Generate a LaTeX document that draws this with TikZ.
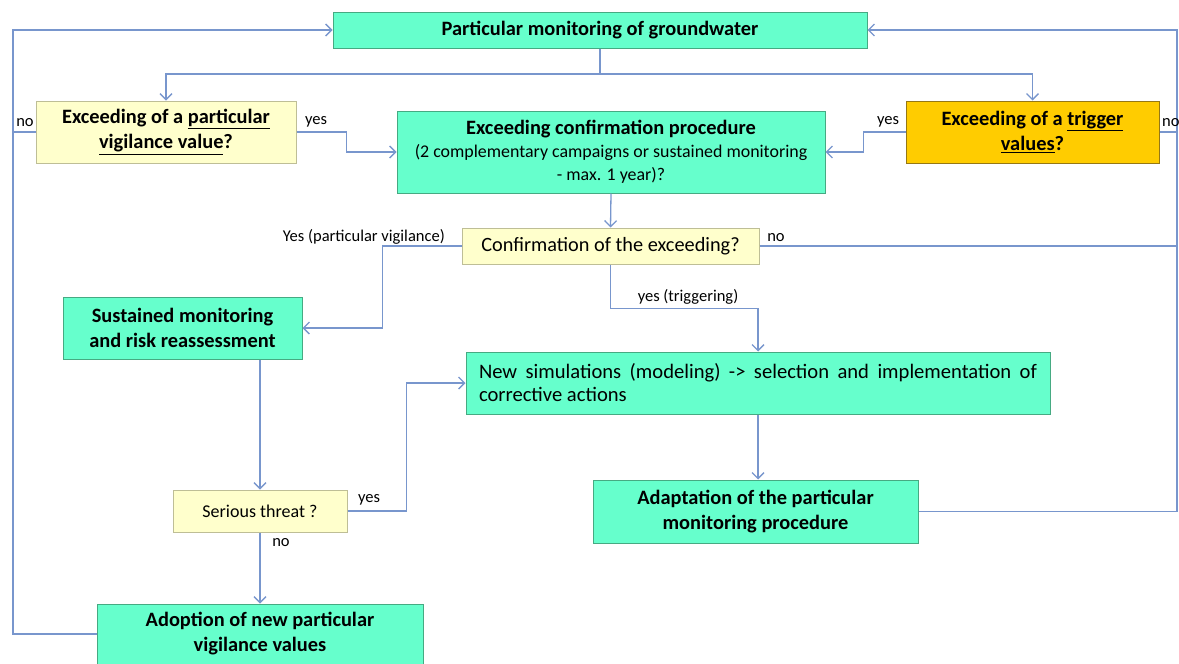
\documentclass[tikz,border=0pt]{standalone}
\usepackage{fontspec}
\setmainfont{Carlito}
\usepackage{tikz}
\usetikzlibrary{arrows.meta}
\usepackage{xcolor}
\definecolor{ColGreen}{RGB}{102,255,204}
\definecolor{ColGreenD}{RGB}{70,170,130}
\definecolor{ColYellow}{RGB}{255,255,204}
\definecolor{ColYellowD}{RGB}{190,190,150}
\definecolor{ColOrange}{RGB}{255,204,0}
\definecolor{ColOrangeD}{RGB}{150,120,20}
\definecolor{ColLine}{RGB}{120,150,205}
\tikzstyle{BoxGreen}=[rectangle,draw=ColGreenD,fill=ColGreen,line width=1pt,inner sep=2pt,align=center,
font=\fontsize{20.4}{25}\selectfont\bfseries]
\tikzstyle{BoxYellow}=[rectangle,draw=ColYellowD,fill=ColYellow,line width=1pt,inner sep=2pt,align=center,
font=\fontsize{20.4}{25}\selectfont\bfseries]
\tikzstyle{BoxOrange}=[rectangle,draw=ColOrangeD,fill=ColOrange,line width=1pt,inner sep=2pt,align=center,
font=\fontsize{20.4}{25}\selectfont\bfseries]
\tikzstyle{EdgeFlow}=[ColLine,line width=1.3pt,>={Straight Barb[length=6pt,width=12pt]}]
\tikzstyle{LabelEdge}=[inner sep=0pt,font=\fontsize{16.5}{18}\selectfont]

\begin{document}
\begin{tikzpicture}[x=1pt,y=-1pt]
        \useasboundingbox(0,0)rectangle(1179,664);
        % boxes
        \node[BoxGreen,minimum width=534,minimum height=36](monitor)at(600,30){Particular monitoring of groundwater};
        \node[BoxYellow,minimum width=260,minimum height=62](vigil)at(166,132){Exceeding of a \underline{particular}\\\underline{vigilance value}?};
        \node[BoxOrange,minimum width=253,minimum height=62](trigger)at(1032.5,132){Exceeding of a \underline{trigger}\\\underline{values}?};
        \node[BoxGreen,minimum width=428,minimum height=82](confproc)at(611,152){Exceeding confirmation procedure\\[-2pt]
            {\mdseries\fontsize{17.9}{20}\selectfont(2 complementary campaigns or sustained monitoring}\\[-2pt]
            {\mdseries\fontsize{17.9}{20}\selectfont - max. 1 year)?}};
        \node[BoxYellow,minimum width=297,minimum height=36,font=\fontsize{20.3}{22}\selectfont](confirm)at(610.5,246){Confirmation of the exceeding?};
        \node[BoxGreen,minimum width=239,minimum height=62](sustain)at(182.5,328){Sustained monitoring\\and risk reassessment};
        \node[BoxGreen,minimum width=584,minimum height=62,align=left,font=\fontsize{20.6}{23}\selectfont](newsim)at(758,383){\makebox[558pt][s]{New simulations (modeling) -> selection and implementation of}\\corrective actions};
        \node[BoxYellow,minimum width=174,minimum height=42,font=\fontsize{18}{20}\selectfont](serious)at(260,511){Serious threat ?};
        \node[BoxGreen,minimum width=325,minimum height=63](adapt)at(755.5,511.5){Adaptation of the particular\\monitoring procedure};
        \node[BoxGreen,minimum width=326,minimum height=60](adopt)at(260,634){Adoption of new particular\\vigilance values};
        % corners
        \coordinate(split)at(600,74);
        \coordinate(leftTop)at(13,30);
        \coordinate(leftBot)at(13,634);
        \coordinate(rightTop)at(1177,30);
        \coordinate(rightBot)at(1177,511.5);
        % connectors
        \draw[EdgeFlow](monitor)--(split);
        \draw[EdgeFlow,->](split)-|(vigil.north);
        \draw[EdgeFlow,->](split)-|(trigger.north);
        \draw[EdgeFlow,->](adopt.west)--(leftBot)--(leftTop)--(monitor.west);
        \draw[EdgeFlow](vigil.west)--(vigil.west-|leftTop);
        \draw[EdgeFlow,->](vigil.east)--++(50,0)|-(confproc.west);
        \draw[EdgeFlow,->](trigger.west)--++(-42,0)|-(confproc.east);
        \draw[EdgeFlow,->](adapt.east)--(rightBot)--(rightTop)--(monitor.east);
        \draw[EdgeFlow](trigger.east)--(trigger.east-|rightTop);
        \draw[EdgeFlow](confirm.east)--(confirm.east-|rightTop);
        \draw[EdgeFlow,->](confproc.south)--(confirm.north);
        \draw[EdgeFlow,->](confirm.west)--++(-79,0)|-(sustain.east);
        \draw[EdgeFlow,->](confirm.south)--++(0,44)-|(newsim.north);
        \draw[EdgeFlow,->](serious.north|-sustain.south)--(serious.north);
        \draw[EdgeFlow,->](serious.east)--++(59,0)|-(newsim.west);
        \draw[EdgeFlow,->](serious.south)--(adopt.north);
        \draw[EdgeFlow,->](newsim.south)--(newsim.south|-adapt.north);
        % labels
        \node[LabelEdge](lblVigNo)at(25,123){no};
        \node[LabelEdge](lblVigYes)at(316,122){yes};
        \node[LabelEdge](lblTrigYes)at(888,122){yes};
        \node[LabelEdge,anchor=west](lblTrigNo)at(1162,123){no};
        \node[LabelEdge](lblConfNo)at(776,238){no};
        \node[LabelEdge,anchor=east](lblConfYes)at(445,237){Yes (particular vigilance)};
        \node[LabelEdge](lblConfTrig)at(688,297){yes (triggering)};
        \node[LabelEdge](lblSerYes)at(369,500){yes};
        \node[LabelEdge](lblSerNo)at(281,543){no};
    \end{tikzpicture}
\end{document}
